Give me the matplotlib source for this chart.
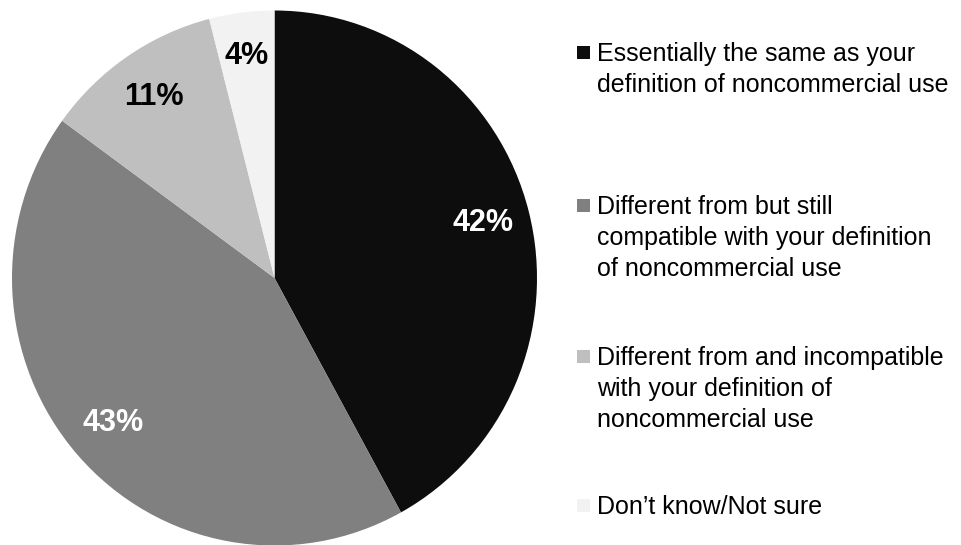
import matplotlib
matplotlib.use('Agg')
import matplotlib.pyplot as plt
from matplotlib.patches import Rectangle

# data
labels = ['Essentially the same as your\ndefinition of noncommercial use',
          'Different from but still\ncompatible with your definition\nof noncommercial use',
          'Different from and incompatible\nwith your definition of\nnoncommercial use',
          'Don\u2019t know/Not sure']
values = [42, 43, 11, 4]
colors = ['#0d0d0d', '#808080', '#bfbfbf', '#f2f2f2']
pct_colors = ['white', 'white', 'black', 'black']

W, H = 961, 545
fig = plt.figure(figsize=(W / 100, H / 100), dpi=100)

# pie axes (slightly taller than wide, as in the original)
ax = fig.add_axes([12 / W, -0.5 / H, 525 / W, 535 / H])
wedges, texts, autotexts = ax.pie(values, colors=colors, startangle=90, counterclock=False,
                                  autopct='%d%%', pctdistance=0.82, radius=1,
                                  wedgeprops=dict(linewidth=0),
                                  textprops=dict(fontsize=22, fontweight='bold', family='Liberation Sans'))
ax.set_aspect('auto')
ax.set_xlim(-1, 1)
ax.set_ylim(-1, 1)
for t, c in zip(autotexts, pct_colors):
    t.set_color(c)
x4, y4 = autotexts[3].get_position()
autotexts[3].set_position((x4 * 1.02, y4 * 1.02))

# legend, drawn by hand
first_baseline = [61, 214, 365, 514]
line_gap = 31
for i, lab in enumerate(labels):
    y0 = first_baseline[i]
    fig.patches.append(Rectangle((577 / W, (H - y0 + 2) / H), 13 / W, 13 / H,
                                 facecolor=colors[i], edgecolor='none', transform=fig.transFigure))
    for j, line in enumerate(lab.split('\n')):
        fig.text(597 / W, (H - (y0 + j * line_gap)) / H, line, fontsize=18,
                 family='Liberation Sans', color='black', va='baseline', ha='left')

plt.savefig('out.png', dpi=100)
